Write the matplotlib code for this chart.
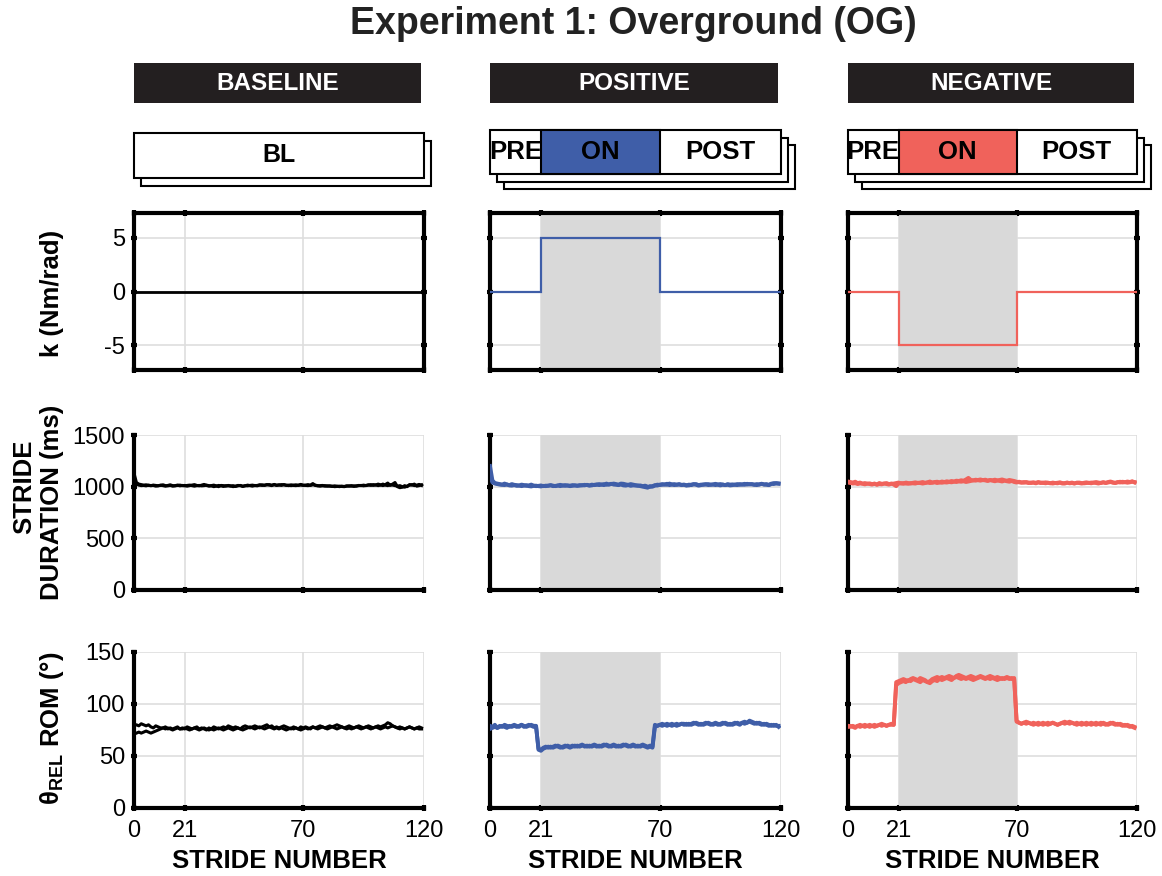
import numpy as np
import matplotlib
matplotlib.use("Agg")
from matplotlib import pyplot as plt
from matplotlib.patches import Rectangle
from matplotlib.transforms import offset_copy

plt.rcParams['font.family'] = ['Liberation Sans', 'DejaVu Sans']
plt.rcParams['mathtext.fontset'] = 'custom'
plt.rcParams['mathtext.rm'] = 'Liberation Sans'
plt.rcParams['mathtext.bf'] = 'Liberation Sans:bold'
plt.rcParams['axes.unicode_minus'] = False

####### Data ###############################################################
conditions = ["BASELINE", "POSITIVE", "NEGATIVE"]
colors = ["black", "#3F5EA8", "#F0625B"]
x_ticks = [0, 21, 70, 120]
phase_edges = [0, 21, 70, 120]
phase_names = ["PRE", "ON", "POST"]

k_bl = [0, 0, 0]
k_pos = [0, 5, 0]
k_neg = [0, -5, 0]

# stride duration (ms), two trials per condition
dur_bl_a = [1130, 1040, 1025, 1020, 1015, 1018, 1012, 1010, 1015, 1012, 1008, 1015, 1010, 1005, 1012, 1018, 1010, 1008, 1012, 1015,
            1010, 1012, 1005, 1010, 1015, 1020, 1012, 1008, 1015, 1022, 1012, 1005, 1010, 1015, 1008, 1000, 1012, 1010, 1005, 1012,
            1008, 1000, 1005, 1012, 1010, 1002, 1008, 1015, 1010, 1005, 1012, 1008, 1015, 1018, 1012, 1020, 1015, 1010, 1022, 1015,
            1018, 1012, 1020, 1015, 1010, 1018, 1012, 1010, 1015, 1022, 1015, 1012, 1010, 1015, 1030, 1012, 1008, 1010, 1012, 1005,
            1008, 1005, 1002, 1008, 1005, 1000, 1005, 1002, 1008, 1005, 1010, 1002, 1008, 1012, 1010, 1015, 1010, 1018, 1012, 1020,
            1015, 1025, 1018, 1010, 1020, 1035, 1012, 1025, 1040, 1000, 990, 995, 1010, 1000, 1020, 1015, 1025, 1005, 1010, 1018]
dur_bl_b = [1040, 1025, 1015, 1010, 1012, 1008, 1015, 1010, 1012, 1005, 1010, 1012, 1018, 1010, 1008, 1012, 1005, 1010, 1015, 1008,
            1012, 1008, 1012, 1015, 1010, 1005, 1010, 1012, 1008, 1010, 1015, 1010, 1008, 1000, 1005, 1012, 1008, 1002, 1010, 1008,
            1005, 1010, 1002, 1008, 1012, 1005, 1010, 1008, 1012, 1015, 1010, 1012, 1018, 1012, 1015, 1018, 1020, 1015, 1018, 1012,
            1015, 1020, 1018, 1012, 1015, 1010, 1015, 1018, 1012, 1015, 1012, 1015, 1020, 1012, 1018, 1015, 1010, 1005, 1008, 1010,
            1005, 1008, 1005, 1000, 1002, 1005, 1002, 1000, 1005, 1008, 1005, 1008, 1005, 1010, 1012, 1008, 1012, 1015, 1020, 1012,
            1018, 1010, 1015, 1025, 1015, 1010, 1020, 1015, 1010, 1005, 1010, 1000, 995, 1005, 1015, 1020, 1010, 1015, 1022, 1012]
dur_pos_a = [1200, 1060, 1035, 1030, 1025, 1020, 1030, 1020, 1015, 1025, 1018, 1015, 1010, 1020, 1015, 1008, 1012, 1020, 1010, 1005,
             1008, 1012, 1005, 1010, 1008, 1015, 1010, 1005, 1012, 1018, 1010, 1008, 1012, 1010, 1015, 1012, 1008, 1010, 1015, 1012,
             1018, 1012, 1020, 1015, 1018, 1025, 1020, 1015, 1030, 1020, 1025, 1030, 1025, 1020, 1030, 1028, 1022, 1018, 1025, 1020,
             1015, 1012, 1005, 1000, 995, 990, 1005, 1000, 1010, 1020, 1015, 1025, 1020, 1018, 1030, 1022, 1015, 1020, 1025, 1018,
             1020, 1015, 1012, 1020, 1025, 1018, 1010, 1015, 1022, 1020, 1025, 1018, 1020, 1015, 1022, 1025, 1020, 1015, 1018, 1012,
             1015, 1020, 1025, 1018, 1022, 1028, 1020, 1025, 1022, 1018, 1025, 1020, 1028, 1022, 1018, 1015, 1025, 1035, 1030, 1028]
dur_pos_b = [1100, 1040, 1030, 1025, 1020, 1018, 1015, 1022, 1012, 1010, 1015, 1008, 1012, 1005, 1010, 1015, 1005, 1002, 1008, 1010,
             1005, 1002, 1008, 1005, 1010, 1012, 1005, 1008, 1010, 1005, 1012, 1015, 1010, 1005, 1008, 1012, 1010, 1015, 1012, 1018,
             1015, 1010, 1012, 1018, 1022, 1015, 1020, 1025, 1018, 1022, 1028, 1020, 1018, 1015, 1020, 1012, 1010, 1015, 1008, 1012,
             1010, 1008, 1012, 1005, 1010, 1000, 998, 1005, 1015, 1010, 1020, 1018, 1022, 1028, 1015, 1020, 1025, 1018, 1020, 1015,
             1018, 1010, 1020, 1015, 1022, 1025, 1015, 1020, 1018, 1025, 1015, 1020, 1022, 1028, 1018, 1012, 1020, 1015, 1025, 1020,
             1022, 1018, 1015, 1025, 1020, 1018, 1028, 1022, 1025, 1020, 1015, 1022, 1028, 1020, 1025, 1018, 1030, 1025, 1035, 1032]
dur_neg_a = [1050, 1045, 1040, 1048, 1035, 1040, 1030, 1035, 1028, 1032, 1025, 1030, 1022, 1035, 1028, 1030, 1035, 1025, 1030, 1020,
             1005, 1030, 1035, 1028, 1040, 1035, 1030, 1038, 1042, 1035, 1040, 1045, 1038, 1042, 1050, 1040, 1045, 1048, 1042, 1050,
             1045, 1052, 1048, 1055, 1050, 1058, 1055, 1062, 1058, 1070, 1085, 1065, 1060, 1068, 1062, 1058, 1065, 1060, 1055, 1062,
             1058, 1052, 1060, 1055, 1050, 1058, 1052, 1048, 1055, 1045, 1040, 1048, 1042, 1038, 1045, 1040, 1035, 1042, 1038, 1045,
             1040, 1035, 1042, 1038, 1032, 1040, 1035, 1038, 1042, 1035, 1030, 1038, 1035, 1040, 1032, 1038, 1035, 1030, 1038, 1042,
             1035, 1040, 1038, 1045, 1040, 1035, 1042, 1038, 1045, 1050, 1042, 1038, 1045, 1040, 1048, 1042, 1050, 1045, 1052, 1040]
dur_neg_b = [1040, 1035, 1030, 1032, 1025, 1030, 1028, 1022, 1030, 1025, 1020, 1028, 1018, 1025, 1022, 1030, 1025, 1020, 1028, 1030,
             1035, 1040, 1030, 1035, 1030, 1028, 1035, 1032, 1030, 1038, 1035, 1030, 1035, 1040, 1035, 1038, 1042, 1035, 1040, 1038,
             1042, 1040, 1045, 1042, 1048, 1045, 1050, 1048, 1052, 1045, 1050, 1055, 1062, 1058, 1065, 1070, 1062, 1068, 1060, 1065,
             1062, 1068, 1060, 1065, 1070, 1062, 1058, 1065, 1060, 1055, 1048, 1042, 1038, 1045, 1040, 1035, 1040, 1038, 1032, 1040,
             1035, 1040, 1032, 1038, 1035, 1030, 1035, 1032, 1038, 1030, 1035, 1040, 1032, 1035, 1030, 1038, 1040, 1035, 1032, 1035,
             1038, 1032, 1040, 1035, 1030, 1038, 1042, 1035, 1040, 1045, 1038, 1035, 1042, 1048, 1040, 1045, 1038, 1042, 1048, 1045]

# relative angle range of motion (deg), two trials per condition
rom_bl_a = [79, 80, 79, 81, 80, 79, 80, 78, 77, 79, 78, 77, 77, 78, 76, 77, 76, 77, 78, 76,
            77, 76, 78, 77, 76, 77, 78, 76, 77, 76, 75, 77, 76, 78, 77, 76, 77, 78, 77, 79,
            78, 77, 78, 77, 76, 78, 79, 78, 77, 78, 79, 78, 77, 78, 79, 80, 78, 79, 77, 78,
            77, 78, 79, 78, 77, 76, 78, 77, 76, 78, 77, 78, 77, 76, 78, 77, 78, 79, 78, 77,
            78, 79, 78, 79, 80, 79, 78, 77, 78, 79, 78, 77, 78, 79, 78, 77, 78, 79, 78, 77,
            78, 79, 78, 79, 80, 82, 81, 79, 78, 77, 78, 77, 76, 77, 78, 77, 76, 77, 78, 77]
rom_bl_b = [71, 72, 73, 72, 73, 74, 73, 72, 73, 74, 75, 76, 77, 76, 77, 76, 75, 76, 77, 76,
            76, 77, 76, 75, 76, 77, 76, 75, 76, 77, 76, 75, 76, 75, 76, 77, 76, 75, 76, 77,
            76, 75, 76, 77, 76, 75, 76, 77, 78, 77, 76, 77, 78, 77, 76, 77, 78, 77, 76, 77,
            76, 77, 76, 75, 76, 77, 76, 77, 76, 75, 76, 77, 76, 77, 78, 77, 76, 77, 78, 77,
            76, 77, 78, 77, 76, 77, 78, 77, 76, 77, 76, 77, 78, 77, 76, 77, 78, 77, 76, 77,
            78, 77, 76, 77, 78, 77, 78, 79, 78, 77, 76, 77, 76, 77, 78, 77, 76, 77, 76, 76]
rom_pos_a = [79, 78, 80, 77, 79, 78, 80, 79, 78, 79, 80, 79, 78, 80, 79, 78, 79, 80, 79, 79,
             56, 55, 57, 58, 59, 58, 59, 60, 59, 58, 59, 60, 59, 58, 59, 60, 59, 60, 61, 59,
             60, 59, 60, 61, 60, 59, 60, 61, 60, 59, 60, 61, 60, 59, 60, 61, 60, 59, 60, 61,
             60, 59, 60, 61, 60, 59, 60, 59, 80, 79, 80, 81, 80, 79, 80, 81, 80, 79, 80, 81,
             81, 80, 81, 80, 81, 82, 81, 80, 81, 82, 81, 80, 81, 82, 81, 80, 81, 82, 81, 80,
             81, 82, 81, 80, 82, 83, 82, 84, 83, 82, 81, 82, 81, 80, 81, 80, 79, 80, 79, 79]
rom_pos_b = [76, 77, 78, 77, 78, 79, 78, 77, 79, 78, 79, 78, 79, 80, 78, 79, 80, 79, 78, 78,
             57, 56, 58, 59, 58, 59, 58, 59, 60, 59, 58, 59, 60, 59, 60, 59, 60, 59, 60, 60,
             59, 60, 59, 60, 59, 60, 59, 60, 61, 60, 59, 60, 59, 60, 59, 60, 61, 60, 59, 60,
             59, 60, 59, 60, 59, 58, 59, 58, 78, 79, 80, 79, 80, 81, 80, 79, 80, 81, 80, 81,
             80, 81, 80, 81, 82, 81, 80, 81, 80, 81, 82, 81, 80, 81, 80, 81, 82, 81, 80, 81,
             80, 81, 82, 81, 82, 81, 82, 83, 82, 81, 82, 81, 80, 81, 80, 79, 80, 79, 80, 78]
rom_neg_a = [78, 79, 78, 77, 79, 78, 79, 80, 79, 78, 79, 80, 79, 80, 81, 80, 79, 80, 80, 80,
             118, 120, 121, 122, 121, 123, 122, 124, 123, 122, 121, 123, 122, 121, 120, 122, 123, 122, 124, 123,
             124, 125, 124, 123, 125, 126, 125, 124, 125, 124, 125, 124, 123, 124, 125, 126, 125, 124, 125, 124,
             125, 124, 123, 124, 125, 124, 125, 124, 125, 124, 84, 82, 81, 82, 81, 82, 81, 80, 81, 82,
             81, 82, 81, 80, 81, 82, 81, 80, 81, 82, 81, 82, 83, 82, 81, 82, 81, 80, 81, 82,
             81, 80, 81, 82, 81, 80, 82, 81, 80, 81, 82, 81, 80, 81, 80, 79, 80, 79, 78, 77]
rom_neg_b = [79, 78, 79, 78, 79, 80, 79, 78, 79, 80, 79, 78, 79, 80, 79, 80, 79, 80, 81, 80,
             121, 122, 123, 124, 123, 122, 124, 125, 124, 123, 125, 124, 123, 121, 122, 124, 125, 126, 125, 126,
             125, 126, 127, 126, 125, 127, 128, 127, 126, 125, 126, 127, 126, 125, 126, 127, 126, 125, 126, 127,
             126, 125, 126, 125, 124, 125, 126, 125, 124, 125, 83, 82, 81, 82, 83, 82, 81, 82, 81, 80,
             81, 80, 81, 82, 81, 82, 81, 80, 81, 82, 83, 82, 81, 82, 81, 80, 81, 82, 81, 80,
             81, 82, 81, 80, 81, 82, 81, 80, 81, 82, 81, 80, 81, 80, 79, 80, 79, 78, 79, 78]

k_data = [k_bl, k_pos, k_neg]
dur_data = [(dur_bl_a, dur_bl_b), (dur_pos_a, dur_pos_b), (dur_neg_a, dur_neg_b)]
rom_data = [(rom_bl_a, rom_bl_b), (rom_pos_a, rom_pos_b), (rom_neg_a, rom_neg_b)]
strides = np.arange(len(dur_bl_a))

####### Layout (pixels) ####################################################
W, H = 1162, 876
fig = plt.figure(figsize=(W / 100, H / 100), dpi=100)

def px_rect(x0, y0, x1, y1):
    return [x0 / W, 1 - y1 / H, (x1 - x0) / W, (y1 - y0) / H]

col_x = [(134, 424), (490, 781), (848, 1137)]
row_y = [(213, 370), (435, 590), (652, 808)]
box_y = [(133, 178), (130, 174), (130, 174)]
grid_col = "#DEDEDE"
shade_col = "#D9D9D9"

fig.text(633 / W, 1 - 24 / H, "Experiment 1: Overground (OG)", ha='center', va='center',
         fontsize=27, fontweight='bold', color='#222222')

for c in range(3):
    x0, x1 = col_x[c]

    # black header bar
    hb = fig.add_axes(px_rect(x0, 63, x1 - 3, 103))
    hb.set_facecolor('#231F20')
    hb.set_xticks([]); hb.set_yticks([])
    for s in hb.spines.values():
        s.set_visible(False)
    hb.text(0.5, 0.5, conditions[c], color='white', fontsize=17.5, fontweight='bold',
            ha='center', va='center', transform=hb.transAxes)

    # stacked phase boxes
    by0, by1 = box_y[c]
    pb = fig.add_axes(px_rect(x0, by0, x1, by1))
    pb.set_xlim(0, 120); pb.set_ylim(0, 1)
    pb.axis('off')
    n_shadow = 1 if c == 0 else 2
    for i in range(n_shadow, 0, -1):
        tr = offset_copy(pb.transData, fig=fig, x=7 * i, y=-7.5 * i, units='dots')
        pb.add_patch(Rectangle((0, 0), 120, 1, facecolor='white', edgecolor='black',
                               lw=1.5, transform=tr, clip_on=False, zorder=1 + n_shadow - i))
    pb.add_patch(Rectangle((0, 0), 120, 1, facecolor='white', edgecolor='black',
                           lw=1.5, clip_on=False, zorder=5))
    if c == 0:
        pb.text(60, 0.5, "BL", fontsize=18, fontweight='bold', ha='center', va='center', zorder=6)
    else:
        pb.add_patch(Rectangle((phase_edges[1], 0), phase_edges[2] - phase_edges[1], 1,
                               facecolor=colors[c], edgecolor='black', lw=1.5,
                               clip_on=False, zorder=5.5))
        for j in range(3):
            mid = (phase_edges[j] + phase_edges[j + 1]) / 2
            pb.text(mid, 0.5, phase_names[j], fontsize=18.5, fontweight='bold',
                    ha='center', va='center', zorder=6)

    # data panels
    for r in range(3):
        y0, y1 = row_y[r]
        ax = fig.add_axes(px_rect(x0, y0, x1, y1))
        ax.set_axisbelow(True)
        ax.grid(True, color=grid_col, lw=1.2)
        ax.set_xlim(0, 120)
        ax.set_xticks(x_ticks)
        if c > 0:
            ax.axvspan(phase_edges[1], phase_edges[2], color=shade_col, lw=0, zorder=1)

        if r == 0:
            ax.stairs(k_data[c], phase_edges, baseline=None, color=colors[c],
                      lw=2.0 if c == 0 else 1.6, zorder=3)
            ax.set_ylim(-7.3, 7.3)
            ax.set_yticks([-5, 0, 5])
            for s in ax.spines.values():
                s.set_linewidth(3)
            ax.tick_params(top=True, right=True)
        else:
            if r == 1:
                series = dur_data[c]
                ax.set_ylim(0, 1500)
                ax.set_yticks([0, 500, 1000, 1500])
            else:
                series = rom_data[c]
                ax.set_ylim(0, 150)
                ax.set_yticks([0, 50, 100, 150])
            for tr_vals in series:
                ax.plot(strides, tr_vals, color=colors[c], lw=2.2 if c == 0 else 2.8,
                        zorder=3, solid_joinstyle='round')
            ax.spines['top'].set_visible(False)
            ax.spines['right'].set_visible(False)
            ax.spines['left'].set_linewidth(3)
            ax.spines['bottom'].set_linewidth(3)

        ax.tick_params(direction='inout', length=5, width=3, color='black',
                       labelsize=17, pad=4)
        ax.tick_params(axis='x', pad=6)
        if c > 0:
            ax.tick_params(labelleft=False)
        if r < 2:
            ax.tick_params(labelbottom=False)
        else:
            fig.text((x0 + x1) / 2 / W, 1 - 861 / H, "STRIDE NUMBER", ha='center',
                     va='center', fontsize=18.5, fontweight='bold')

# y labels
fig.text(52 / W, 1 - 293 / H, "k (Nm/rad)", rotation=90, ha='center', va='center',
         fontsize=18.5, fontweight='bold')
fig.text(24 / W, 1 - 487 / H, "STRIDE", rotation=90, ha='center', va='center',
         fontsize=18.5, fontweight='bold')
fig.text(52 / W, 1 - 502 / H, "DURATION (ms)", rotation=90, ha='center', va='center',
         fontsize=18.5, fontweight='bold')
fig.text(52 / W, 1 - 728 / H, r"θ$_{\mathbf{REL}}$ ROM (°)", rotation=90,
         ha='center', va='center', fontsize=18.5, fontweight='bold')

plt.savefig("out.png", dpi=100)
